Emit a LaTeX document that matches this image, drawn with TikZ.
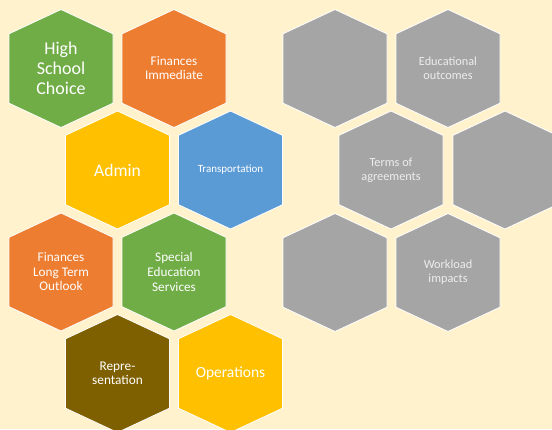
\documentclass[tikz,border=0pt]{standalone}
\usepackage{fontspec}
\setmainfont{Carlito}
\definecolor{bgc}{HTML}{FFF2CC}
\definecolor{hgreen}{HTML}{70AD47}
\definecolor{horange}{HTML}{ED7D31}
\definecolor{hgold}{HTML}{FFC000}
\definecolor{hblue}{HTML}{5B9BD5}
\definecolor{hgray}{HTML}{A5A5A5}
\definecolor{hbrown}{HTML}{7F6000}
\definecolor{gtext}{HTML}{EDEDED}
\newcommand{\hexcell}[6]{%
  \fill[#4, draw=white, line width=0.8pt]
    (#2,#3) ++(0,-59) -- ++(52,24.3) -- ++(0,69.4) -- ++(-52,24.3)
    -- ++(-52,-24.3) -- ++(0,-69.4) -- cycle;
  \node[hextext, #6] (#1) at (#2,#3) {#5};
}
\begin{document}
\begin{tikzpicture}[x=1pt,y=-1pt,
  hextext/.style={text=white, align=center, font=\fontsize{12.3}{14}\selectfont, inner sep=0pt},
  bigtext/.style={font=\fontsize{18}{20}\selectfont},
  midtext/.style={font=\fontsize{13.2}{14.5}\selectfont},
  graytext/.style={text=gtext, font=\fontsize{12.3}{13.7}\selectfont}]
\fill[bgc] (0,0) rectangle (552,429);
\useasboundingbox (0,0) rectangle (552,429);
% left group
\hexcell{hsc}{61}{68.5}{hgreen}{High\\School\\Choice}{bigtext}
\hexcell{finimm}{174}{68.5}{horange}{Finances\\Immediate}{font=\fontsize{13.2}{14}\selectfont}
\hexcell{admin}{117.5}{170}{hgold}{Admin}{font=\fontsize{17.6}{20}\selectfont}
\hexcell{transp}{230.5}{170}{hblue}{Transportation}{font=\fontsize{11}{13}\selectfont}
\hexcell{finlt}{61}{272}{horange}{Finances\\Long Term\\Outlook}{midtext}
\hexcell{sped}{174}{272}{hgreen}{Special\\Education\\Services}{font=\fontsize{13.2}{14.6}\selectfont}
\hexcell{repr}{117.5}{373.5}{hbrown}{Repre-\\sentation}{font=\fontsize{13.3}{14}\selectfont}
\hexcell{ops}{230.5}{373.5}{hgold}{Operations}{font=\fontsize{15.5}{18}\selectfont}
% right group
\hexcell{g1}{335}{68.5}{hgray}{}{}
\hexcell{edu}{448}{68.5}{hgray}{Educational\\outcomes}{graytext}
\hexcell{terms}{391}{170}{hgray}{Terms of\\agreements}{graytext}
\hexcell{g2}{505}{170}{hgray}{}{}
\hexcell{g3}{335}{272.5}{hgray}{}{}
\hexcell{work}{448}{272.5}{hgray}{Workload\\impacts}{graytext}
\end{tikzpicture}
\end{document}
